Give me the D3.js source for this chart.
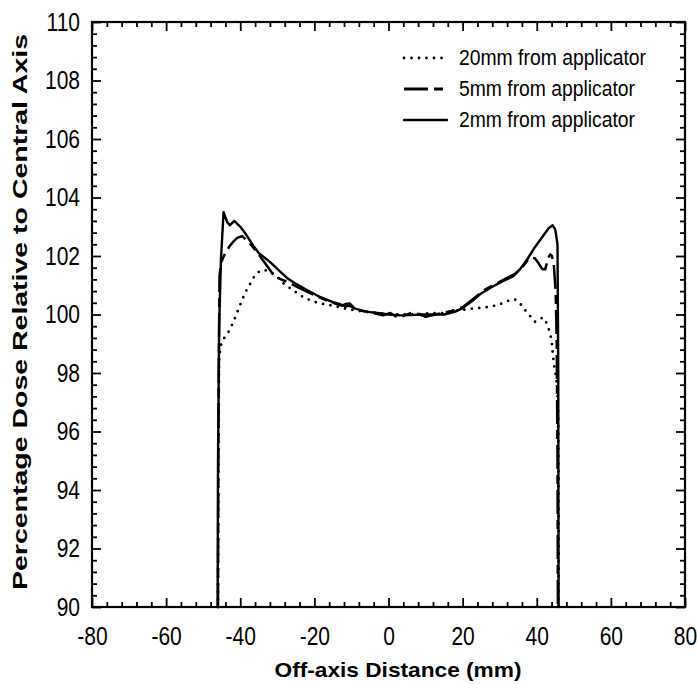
<!DOCTYPE html>
<html>
<head>
<meta charset="utf-8">
<script src="https://cdn.jsdelivr.net/npm/d3@7"></script>
<style>
  html, body { margin: 0; padding: 0; background: #fff; }
  svg { display: block; font-family: "Liberation Sans", Arial, Helvetica, sans-serif; }
</style>
</head>
<body>
<svg id="chart" width="697" height="684"></svg>
<script>
// ---------------- data ----------------
const xMajorTicks = [-80, -60, -40, -20, 0, 20, 40, 60, 80];
const yMajorTicks = [90, 92, 94, 96, 98, 100, 102, 104, 106, 108, 110];
const xTitle = "Off-axis Distance (mm)";
const yTitle = "Percentage Dose Relative to Central Axis";
const seriesNames = ["20mm from applicator", "5mm from applicator", "2mm from applicator"];

// 2mm from applicator (solid)
const dist2mm = [-46.1, -46.0, -45.7, -45.2, -44.5, -43.5, -42.8, -41.6, -40.0, -38.5, -36.5, -35.0, -32.0, -29.5, -27.4, -25.0, -22.0, -18.5, -15.0, -13.0, -11.5, -10.5, -9.0, -6.0, -3.0, 0, 3, 6, 9, 12, 15, 18, 20, 22.5, 25, 28, 31, 33.6, 35.5, 37.4, 39.5, 41.5, 43.2, 44.3, 45.0, 45.6, 45.8, 45.9];
const dose2mm = [90, 95, 99.6, 101.9, 103.5, 103.15, 103.05, 103.2, 103.0, 102.75, 102.35, 102.1, 101.8, 101.5, 101.25, 101.05, 100.84, 100.6, 100.42, 100.35, 100.28, 100.3, 100.2, 100.1, 100.05, 100.0, 99.97, 99.98, 100.0, 100.0, 100.0, 100.1, 100.22, 100.45, 100.72, 100.95, 101.15, 101.3, 101.55, 101.88, 102.3, 102.65, 102.95, 103.05, 102.9, 102.4, 98, 90];

// 5mm from applicator (dashed)
const dist5mm = [-46.0, -45.9, -45.6, -45.2, -44.6, -43.8, -42.8, -41.8, -40.8, -39.5, -37.5, -35.0, -33.0, -31.0, -29.0, -27.0, -24.0, -21.0, -18.0, -15.0, -12.5, -11.5, -10.5, -9.5, -7.0, -4.0, -1.5, 0.5, 2.0, 4.0, 6.0, 8.0, 10.0, 12.0, 14.5, 17, 20, 23, 26, 29, 32, 34, 36, 37.5, 38.5, 39.5, 40.5, 41.5, 42.3, 43.0, 43.6, 44.1, 44.6, 45.1, 45.4, 45.6, 45.7];
const dose5mm = [90, 96, 101.3, 101.75, 101.95, 102.15, 102.35, 102.5, 102.62, 102.68, 102.45, 102.05, 101.7, 101.35, 101.2, 101.1, 100.9, 100.72, 100.55, 100.4, 100.3, 100.36, 100.38, 100.25, 100.12, 100.05, 99.97, 100.05, 99.93, 99.95, 100.05, 100.02, 99.92, 99.98, 100.05, 100.12, 100.25, 100.55, 100.85, 101.05, 101.25, 101.38, 101.6, 101.85, 101.95, 101.92, 101.75, 101.55, 101.55, 101.9, 102.05, 102.0, 101.7, 100.8, 99, 95, 90];

// 20mm from applicator (dotted)
const dist20mm = [-46.0, -45.9, -45.7, -45.2, -44.3, -43.3, -42.0, -40.9, -39.8, -38.7, -37.3, -36.0, -34.8, -33.9, -32.7, -31.4, -30.0, -28.5, -26.0, -23.1, -20.5, -18.5, -15.0, -11.2, -8, -5.8, -3, 0, 3, 6, 9, 12, 14.7, 18, 21.2, 24, 27.4, 30, 33.3, 34.5, 35.5, 36.5, 37.6, 38.6, 39.5, 40.5, 41.7, 42.7, 43.6, 44.1, 44.4, 44.9, 45.5, 45.8, 45.9, 45.9];
const dose20mm = [90, 95, 98.55, 98.96, 99.2, 99.37, 99.7, 100.05, 100.4, 100.74, 101.05, 101.35, 101.48, 101.52, 101.5, 101.42, 101.28, 101.08, 100.85, 100.6, 100.45, 100.38, 100.3, 100.19, 100.12, 100.09, 100.05, 100.02, 100.0, 100.0, 100.02, 100.05, 100.05, 100.12, 100.18, 100.22, 100.26, 100.35, 100.52, 100.5, 100.38, 100.2, 100.05, 99.88, 99.75, 99.82, 99.9, 99.7, 99.37, 99.0, 98.55, 98.1, 97.6, 96.5, 93, 90];

// ---------------- chart ----------------
const W = 697, H = 684;
const m = { left: 92, right: 12, top: 22, bottom: 77 };
const svg = d3.select("#chart");
const x = d3.scaleLinear().domain([-80, 80]).range([m.left, W - m.right]);
const y = d3.scaleLinear().domain([90, 110]).range([H - m.bottom, m.top]);

const xMinor = d3.range(-80, 80.001, 4).filter(v => !xMajorTicks.includes(v));
const yMinor = d3.range(90, 110.001, 0.4).map(v => +v.toFixed(1)).filter(v => !yMajorTicks.includes(v));

const MAJ = 9, MIN = 5;
const STRETCH = 1.25;
const fmt = d => String(d);
function styleAxis(g) {
  g.select(".domain").remove();
  g.selectAll(".tick line").attr("stroke", "#000").attr("stroke-width", 1.8);
}

// bottom
svg.append("g").attr("transform", `translate(0,${y(90)})`)
  .call(d3.axisBottom(x).tickValues(xMinor).tickSize(-MIN).tickFormat(""))
  .call(styleAxis);
const gxb = svg.append("g").attr("transform", `translate(0,${y(90)})`)
  .call(d3.axisBottom(x).tickValues(xMajorTicks).tickSize(-MAJ).tickFormat(fmt))
  .call(styleAxis);
gxb.selectAll("text").attr("fill", "#000").style("font-size", "21px")
  .attr("y", 30.5).attr("dy", 0).attr("transform", `scale(1,${STRETCH})`);

// top
svg.append("g").attr("transform", `translate(0,${y(110)})`)
  .call(d3.axisTop(x).tickValues(xMinor).tickSize(-MIN).tickFormat(""))
  .call(styleAxis);
svg.append("g").attr("transform", `translate(0,${y(110)})`)
  .call(d3.axisTop(x).tickValues(xMajorTicks).tickSize(-MAJ).tickFormat(""))
  .call(styleAxis);

// left
svg.append("g").attr("transform", `translate(${x(-80)},0)`)
  .call(d3.axisLeft(y).tickValues(yMinor).tickSize(-MIN).tickFormat(""))
  .call(styleAxis);
const gyl = svg.append("g").attr("transform", `translate(${x(-80)},0)`)
  .call(d3.axisLeft(y).tickValues(yMajorTicks).tickSize(-MAJ).tickPadding(12).tickFormat(fmt))
  .call(styleAxis);
gyl.selectAll("text").attr("fill", "#000").style("font-size", "21px")
  .attr("transform", `scale(1,${STRETCH})`);

// right
svg.append("g").attr("transform", `translate(${x(80)},0)`)
  .call(d3.axisRight(y).tickValues(yMinor).tickSize(-MIN).tickFormat(""))
  .call(styleAxis);
svg.append("g").attr("transform", `translate(${x(80)},0)`)
  .call(d3.axisRight(y).tickValues(yMajorTicks).tickSize(-MAJ).tickFormat(""))
  .call(styleAxis);

// frame
svg.append("rect")
  .attr("x", x(-80)).attr("y", y(110))
  .attr("width", x(80) - x(-80)).attr("height", y(90) - y(110))
  .attr("fill", "none").attr("stroke", "#000").attr("stroke-width", 2.2);

// lines
const line = d3.line().x(d => x(d[0])).y(d => y(d[1]));
const zip = (a, b) => a.map((v, i) => [v, b[i]]);

const styles = {
  dotted: { w: 2.8, dash: "0,7.5", cap: "round" },
  dashed: { w: 2.5, dash: "24,6,9,6", cap: "butt" },
  solid:  { w: 2.4, dash: null, cap: "round" }
};

function drawSeries(data, st) {
  svg.append("path").datum(data)
    .attr("d", line)
    .attr("fill", "none").attr("stroke", "#000")
    .attr("stroke-width", st.w)
    .attr("stroke-linejoin", "round")
    .attr("stroke-linecap", st.cap)
    .attr("stroke-dasharray", st.dash);
}
drawSeries(zip(dist20mm, dose20mm), styles.dotted);
drawSeries(zip(dist5mm, dose5mm), styles.dashed);
drawSeries(zip(dist2mm, dose2mm), styles.solid);

// legend
const legendRows = [
  { name: seriesNames[0], st: styles.dotted, cy: 58 },
  { name: seriesNames[1], st: styles.dashed, cy: 89 },
  { name: seriesNames[2], st: styles.solid, cy: 120 }
];
const lg = svg.append("g");
legendRows.forEach(r => {
  lg.append("line").attr("x1", 404).attr("x2", 447).attr("y1", r.cy).attr("y2", r.cy)
    .attr("stroke", "#000").attr("stroke-width", r.st === styles.dashed ? 3 : r.st.w)
    .attr("stroke-linecap", r.st.cap).attr("stroke-dasharray", r.st.dash);
  lg.append("text")
    .attr("transform", `translate(459,${r.cy + 7}) scale(1,1.2)`)
    .style("font-size", "19px").attr("fill", "#000")
    .attr("textLength", r.name === seriesNames[0] ? 187 : 176)
    .attr("lengthAdjust", "spacingAndGlyphs")
    .text(r.name);
});

// axis titles
svg.append("text")
  .attr("x", 398).attr("y", 677)
  .attr("text-anchor", "middle")
  .style("font-size", "21px").style("font-weight", "bold")
  .attr("textLength", 247).attr("lengthAdjust", "spacingAndGlyphs")
  .text(xTitle);
svg.append("text")
  .attr("transform", "translate(27,312) rotate(-90)")
  .attr("text-anchor", "middle")
  .style("font-size", "21px").style("font-weight", "bold")
  .attr("textLength", 556).attr("lengthAdjust", "spacingAndGlyphs")
  .text(yTitle);
</script>
</body>
</html>
